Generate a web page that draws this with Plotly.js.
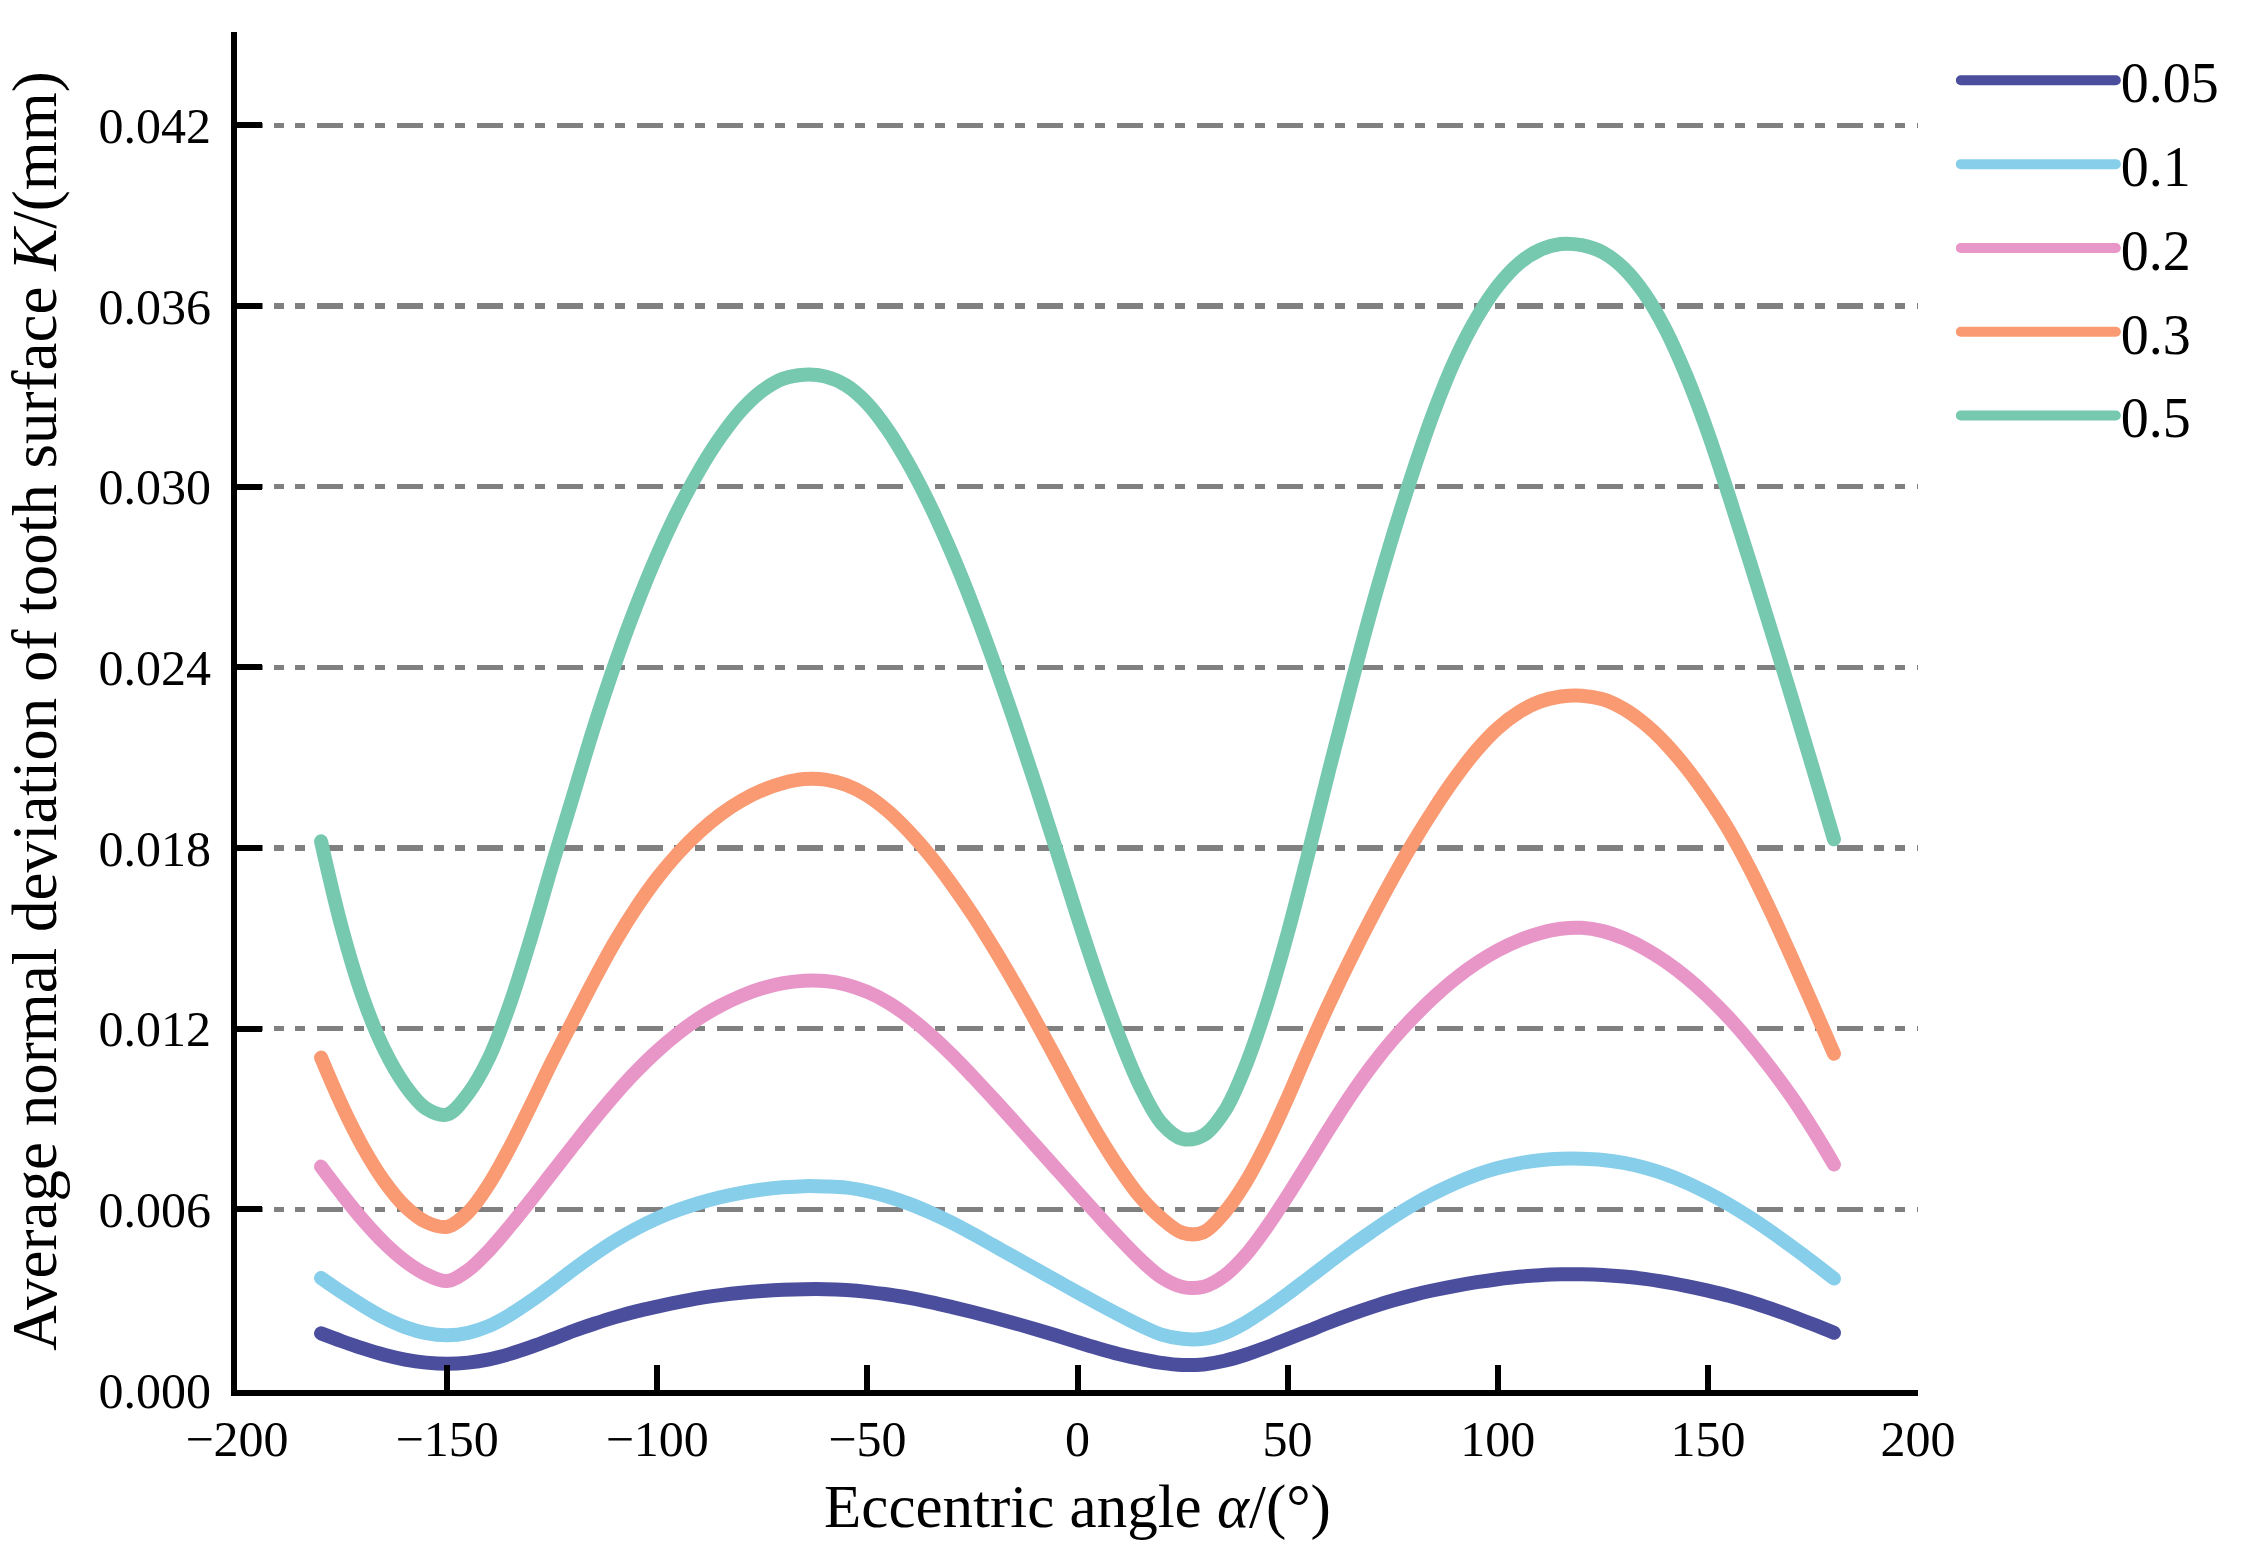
<!DOCTYPE html>
<html>
<head>
<meta charset="utf-8">
<script src="https://cdn.plot.ly/plotly-3.0.1.min.js"></script>
<style>
html,body{margin:0;padding:0;background:#fff;}
#chart{width:2259px;height:1557px;}
path.js-line{stroke-linecap:round !important;}
</style>
</head>
<body>
<div id="chart"></div>
<script>
// Eccentric angle α (degrees), sampled every 5°
const angles = [-180,-175,-170,-165,-160,-155,-150,-145,-140,-135,-130,-125,-120,
  -115,-110,-105,-100,-95,-90,-85,-80,-75,-70,-65,
  -60,-55,-50,-45,-40,-35,-30,-25,-20,-15,-10,-5,
  0,5,10,15,20,25,30,35,40,45,50,55,
  60,65,70,75,80,85,90,95,100,105,110,115,
  120,125,130,135,140,145,150,155,160,165,170,175,180];

// Average normal deviation of tooth surface K (mm), one array per eccentricity
const series005 = [0.00188,0.00162,0.00138,0.00117,0.00101,0.00091,0.00087,0.00091,0.00102,0.00120,0.00143,0.00169,0.00196,
  0.00220,0.00242,0.00261,0.00277,0.00292,0.00305,0.00315,0.00323,0.00329,0.00333,0.00335,
  0.00335,0.00332,0.00326,0.00317,0.00306,0.00292,0.00276,0.00259,0.00241,0.00222,0.00202,0.00181,
  0.00159,0.00138,0.00119,0.00103,0.00090,0.00083,0.00085,0.00097,0.00117,0.00142,0.00169,0.00197,
  0.00225,0.00251,0.00275,0.00297,0.00316,0.00332,0.00346,0.00358,0.00368,0.00376,0.00381,0.00384,
  0.00384,0.00382,0.00377,0.00369,0.00358,0.00345,0.00330,0.00313,0.00293,0.00270,0.00245,0.00218,0.00190];
const series01 = [0.00372,0.00324,0.00280,0.00240,0.00209,0.00189,0.00182,0.00190,0.00213,0.00250,0.00296,0.00347,0.00400,
  0.00450,0.00496,0.00536,0.00570,0.00598,0.00621,0.00640,0.00655,0.00666,0.00673,0.00677,
  0.00676,0.00672,0.00660,0.00642,0.00618,0.00589,0.00556,0.00519,0.00480,0.00441,0.00402,0.00363,
  0.00324,0.00286,0.00249,0.00214,0.00184,0.00170,0.00170,0.00189,0.00224,0.00269,0.00319,0.00372,
  0.00425,0.00477,0.00526,0.00573,0.00616,0.00654,0.00687,0.00715,0.00737,0.00753,0.00763,0.00768,
  0.00768,0.00764,0.00754,0.00738,0.00716,0.00688,0.00654,0.00616,0.00573,0.00526,0.00476,0.00424,0.00370];
const series02 = [0.00742,0.00650,0.00564,0.00489,0.00428,0.00384,0.00362,0.00398,0.00464,0.00545,0.00632,0.00722,0.00811,
  0.00899,0.00982,0.01058,0.01126,0.01185,0.01235,0.01276,0.01309,0.01334,0.01351,0.01359,
  0.01358,0.01346,0.01322,0.01286,0.01238,0.01180,0.01114,0.01042,0.00967,0.00890,0.00812,0.00734,
  0.00656,0.00579,0.00504,0.00433,0.00374,0.00342,0.00343,0.00380,0.00448,0.00540,0.00645,0.00757,
  0.00870,0.00978,0.01076,0.01163,0.01239,0.01307,0.01367,0.01418,0.01460,0.01493,0.01517,0.01532,
  0.01535,0.01524,0.01500,0.01466,0.01422,0.01369,0.01307,0.01236,0.01156,0.01068,0.00972,0.00865,0.00749];
const series03 = [0.01104,0.00944,0.00806,0.00694,0.00610,0.00558,0.00542,0.00590,0.00684,0.00808,0.00948,0.01092,0.01228,
  0.01363,0.01490,0.01602,0.01700,0.01783,0.01853,0.01911,0.01957,0.01992,0.02016,0.02029,
  0.02027,0.02009,0.01974,0.01921,0.01853,0.01773,0.01681,0.01580,0.01469,0.01351,0.01227,0.01098,
  0.00968,0.00845,0.00735,0.00640,0.00570,0.00522,0.00524,0.00590,0.00690,0.00820,0.00970,0.01132,
  0.01287,0.01432,0.01569,0.01699,0.01821,0.01933,0.02035,0.02125,0.02198,0.02251,0.02286,0.02303,
  0.02306,0.02294,0.02262,0.02212,0.02146,0.02064,0.01968,0.01859,0.01731,0.01588,0.01435,0.01277,0.01117];
const series05 = [0.01822,0.01532,0.01302,0.01132,0.01012,0.00935,0.00915,0.00984,0.01104,0.01284,0.01504,0.01744,0.01974,
  0.02204,0.02414,0.02604,0.02774,0.02924,0.03054,0.03164,0.03254,0.03319,0.03359,0.03372,
  0.03366,0.03336,0.03276,0.03186,0.03071,0.02936,0.02781,0.02609,0.02421,0.02221,0.02011,0.01793,
  0.01571,0.01361,0.01171,0.01006,0.00886,0.00834,0.00846,0.00926,0.01076,0.01276,0.01516,0.01786,
  0.02066,0.02336,0.02596,0.02836,0.03056,0.03256,0.03426,0.03561,0.03666,0.03741,0.03786,0.03806,
  0.03802,0.03778,0.03725,0.03640,0.03520,0.03365,0.03180,0.02970,0.02750,0.02525,0.02297,0.02064,0.01829];

const seriesNames = ['0.05','0.1','0.2','0.3','0.5'];
const seriesData = [series005, series01, series02, series03, series05];
const seriesColors = ['#4B4E9D','#87CEEB','#E896C8','#F99A72','#76C8AE'];

const xTicks = [-200,-150,-100,-50,0,50,100,150,200];
const yTicks = [0.000,0.006,0.012,0.018,0.024,0.030,0.036,0.042];

const FONT = 'Liberation Serif, Times New Roman, serif';

const traces = seriesData.map((ys, i) => ({
  x: angles,
  y: ys,
  name: seriesNames[i],
  type: 'scatter',
  mode: 'lines',
  legendgroup: 'g' + i,
  line: {color: seriesColors[i], width: 14, shape: 'spline', smoothing: 1}
}));

const layout = {
  width: 2259,
  height: 1557,
  margin: {l: 237, r: 341, t: 32, b: 167},
  paper_bgcolor: '#ffffff',
  plot_bgcolor: '#ffffff',
  font: {family: FONT, color: '#000000', size: 50},
  showlegend: true,
  legend: {
    x: 1.0225, y: 0.996, xanchor: 'left', yanchor: 'top',
    font: {family: FONT, size: 56, color: '#000'},
    itemwidth: 155,
    traceorder: 'grouped',
    tracegroupgap: 8,
    bgcolor: 'rgba(0,0,0,0)',
    borderwidth: 0
  },
  xaxis: {
    range: [-200, 200],
    tickmode: 'array',
    tickvals: xTicks,
    ticktext: xTicks.map(v => v < 0 ? '\u2212' + Math.abs(v) : String(v)),
    ticks: 'inside',
    ticklen: 25,
    tickwidth: 6,
    tickcolor: '#000',
    showline: true,
    linewidth: 6,
    linecolor: '#000',
    showgrid: false,
    zeroline: false,
    tickfont: {family: FONT, size: 50, color: '#000'},
    title: {text: 'Eccentric angle <i>α</i>/(°)', font: {family: FONT, size: 61, color: '#000'}, standoff: 20},
    automargin: false
  },
  yaxis: {
    range: [0, 0.0451],
    tickmode: 'array',
    tickvals: yTicks,
    ticktext: yTicks.map(v => v.toFixed(3)),
    ticks: 'inside',
    ticklen: 25,
    tickwidth: 6,
    tickcolor: '#000',
    ticklabelstandoff: 10,
    showline: true,
    linewidth: 6,
    linecolor: '#000',
    showgrid: true,
    gridcolor: '#808080',
    gridwidth: 5.5,
    griddash: '26px,11px,10px,11px,10px,12px',
    zeroline: false,
    tickfont: {family: FONT, size: 50, color: '#000'},
    title: {text: 'Average normal deviation of tooth surface <i>K</i>/(mm)', font: {family: FONT, size: 63, color: '#000'}, standoff: 30},
    automargin: false
  }
};

Plotly.newPlot('chart', traces, layout, {displayModeBar: false, staticPlot: true});
</script>
</body>
</html>
